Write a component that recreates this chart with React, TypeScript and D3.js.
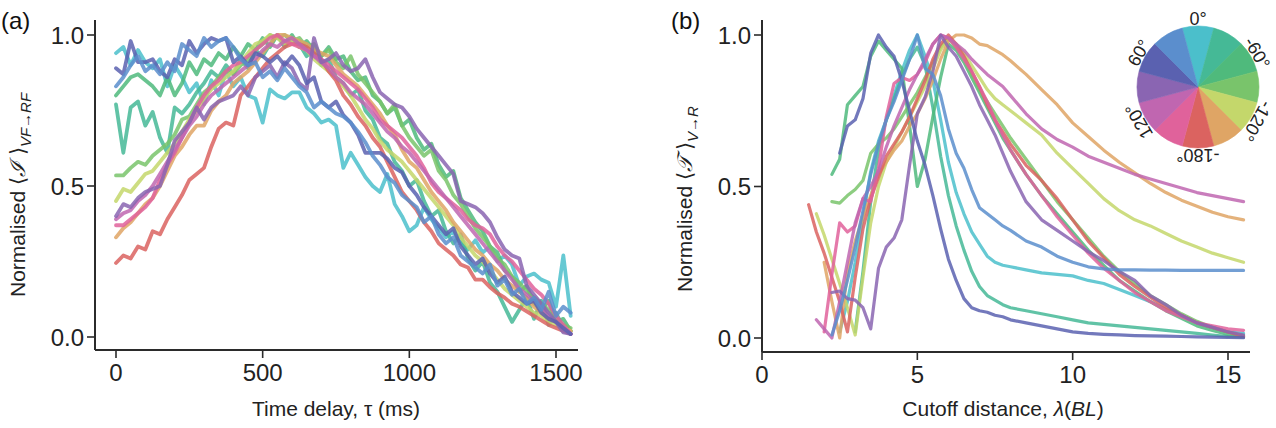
import React from 'react';
import * as d3 from 'd3';

// Heading (deg) for each colour of the wheel, clockwise from the top.
const WHEEL_HEADINGS = [0, -30, -60, -90, -120, -150, 180, 150, 120, 90, 60, 30];
const WHEEL_COLORS = [
  '#4bbfcb', '#45b996', '#4fba7c', '#79c46b', '#c4d76b', '#dfa565',
  '#db6360', '#e0629b', '#c066b0', '#8a65b2', '#5a61b0', '#5b8ecd',
];
const WHEEL_LABEL_HEADINGS = [0, -60, -120, -180, 120, 60];
const WHEEL_LABEL_TEXT = ['0°', '-60°', '-120°', '-180°', '120°', '60°'];

// Panel (a): time delay (ms)
const TIME_MS = [
  0, 25, 50, 75, 100, 125, 150, 175, 200, 225, 250, 275, 300, 325, 350, 375, 400, 425, 450, 475,
  500, 525, 550, 575, 600, 625, 650, 675, 700, 725, 750, 775, 800, 825, 850, 875, 900, 925, 950, 975,
  1000, 1025, 1050, 1075, 1100, 1125, 1150, 1175, 1200, 1225, 1250, 1275, 1300, 1325, 1350, 1375,
  1400, 1425, 1450, 1475, 1500, 1525, 1550,
];

const A_0 = [0.94,0.96,0.90,0.95,0.91,0.89,0.92,0.83,0.90,0.86,0.81,0.84,0.77,0.85,0.80,0.88,0.83,0.86,0.80,0.79,0.71,0.82,0.80,0.79,0.81,0.81,0.76,0.74,0.71,0.72,0.70,0.56,0.61,0.57,0.53,0.50,0.48,0.54,0.44,0.40,0.35,0.37,0.43,0.39,0.36,0.33,0.35,0.31,0.29,0.32,0.28,0.30,0.25,0.27,0.24,0.17,0.20,0.21,0.19,0.18,0.10,0.27,0.07];
const A_M30 = [0.77,0.61,0.76,0.78,0.70,0.745,0.66,0.61,0.76,0.74,0.77,0.81,0.84,0.88,0.86,0.90,0.87,0.92,0.89,0.95,0.93,0.97,1.0,0.96,0.99,0.97,0.93,0.95,0.90,0.92,0.86,0.84,0.80,0.82,0.75,0.72,0.66,0.64,0.58,0.55,0.50,0.52,0.45,0.40,0.42,0.35,0.31,0.34,0.26,0.22,0.25,0.18,0.15,0.10,0.05,0.09,0.13,0.06,0.12,0.04,0.08,0.03,0.02];
const A_M60 = [0.80,0.83,0.86,0.87,0.85,0.83,0.80,0.86,0.80,0.84,0.91,0.87,0.92,0.90,0.94,0.92,0.96,0.93,0.97,0.95,0.99,0.96,1.0,0.97,1.0,0.96,0.98,0.95,0.93,0.96,0.92,0.93,0.88,0.85,0.86,0.80,0.78,0.74,0.76,0.70,0.72,0.66,0.62,0.64,0.57,0.53,0.55,0.46,0.42,0.38,0.35,0.30,0.28,0.22,0.20,0.15,0.17,0.11,0.09,0.12,0.05,0.06,0.02];
const A_M90 = [0.535,0.535,0.56,0.58,0.57,0.60,0.62,0.64,0.67,0.72,0.73,0.77,0.81,0.83,0.86,0.88,0.87,0.90,0.92,0.95,0.97,1.0,0.99,1.0,0.98,0.99,0.96,0.97,0.93,0.95,0.91,0.89,0.93,0.87,0.84,0.81,0.78,0.74,0.77,0.70,0.66,0.63,0.60,0.62,0.55,0.52,0.47,0.44,0.40,0.36,0.33,0.30,0.26,0.24,0.20,0.18,0.15,0.13,0.11,0.09,0.06,0.04,0.03];
const A_M120 = [0.45,0.49,0.48,0.51,0.54,0.55,0.58,0.61,0.64,0.68,0.72,0.75,0.79,0.82,0.84,0.86,0.88,0.91,0.94,0.97,0.98,1.0,0.99,0.97,0.98,0.96,0.95,0.92,0.90,0.88,0.86,0.83,0.80,0.76,0.72,0.69,0.65,0.62,0.60,0.58,0.55,0.52,0.49,0.46,0.43,0.40,0.37,0.33,0.30,0.27,0.25,0.22,0.19,0.16,0.14,0.12,0.10,0.08,0.07,0.05,0.04,0.03,0.02];
const A_M150 = [0.33,0.36,0.38,0.41,0.44,0.46,0.50,0.55,0.60,0.63,0.67,0.70,0.70,0.75,0.78,0.80,0.84,0.86,0.88,0.91,0.94,0.97,1.0,1.0,0.99,0.98,0.97,0.95,0.94,0.93,0.90,0.87,0.85,0.83,0.80,0.77,0.74,0.70,0.67,0.62,0.58,0.56,0.52,0.48,0.45,0.42,0.38,0.35,0.32,0.29,0.27,0.24,0.22,0.19,0.17,0.15,0.13,0.10,0.08,0.06,0.05,0.03,0.02];
const A_180 = [0.245,0.27,0.26,0.30,0.29,0.35,0.34,0.39,0.43,0.47,0.52,0.54,0.56,0.63,0.69,0.71,0.70,0.80,0.83,0.86,0.89,0.92,0.94,0.96,0.97,0.97,0.96,0.94,0.92,0.88,0.85,0.80,0.77,0.73,0.70,0.66,0.63,0.58,0.53,0.48,0.45,0.42,0.38,0.35,0.31,0.29,0.27,0.24,0.23,0.19,0.19,0.165,0.145,0.13,0.11,0.10,0.085,0.07,0.055,0.04,0.03,0.02,0.01];
const A_150 = [0.37,0.37,0.39,0.41,0.43,0.46,0.52,0.57,0.61,0.66,0.71,0.76,0.80,0.83,0.85,0.88,0.90,0.91,0.93,0.95,0.97,0.99,1.0,0.98,0.97,0.96,0.95,0.93,0.92,0.90,0.88,0.86,0.84,0.82,0.79,0.76,0.72,0.70,0.68,0.66,0.63,0.60,0.56,0.51,0.48,0.46,0.44,0.42,0.39,0.37,0.36,0.34,0.30,0.27,0.25,0.22,0.19,0.16,0.14,0.11,0.07,0.04,0.01];
const A_120 = [0.39,0.41,0.42,0.45,0.47,0.50,0.54,0.58,0.62,0.66,0.70,0.73,0.77,0.80,0.82,0.84,0.86,0.88,0.90,0.92,0.95,0.97,0.96,0.98,0.99,0.97,0.95,0.93,0.91,0.89,0.86,0.84,0.81,0.79,0.77,0.74,0.71,0.68,0.66,0.63,0.61,0.58,0.55,0.52,0.49,0.46,0.43,0.40,0.37,0.34,0.31,0.28,0.25,0.22,0.19,0.16,0.14,0.12,0.10,0.07,0.05,0.03,0.01];
const A_90 = [0.40,0.44,0.43,0.46,0.48,0.49,0.50,0.57,0.65,0.68,0.71,0.76,0.72,0.76,0.78,0.79,0.80,0.83,0.80,0.86,0.88,0.90,0.86,0.91,0.89,0.84,0.82,0.99,0.91,0.92,0.94,0.90,0.88,0.89,0.92,0.86,0.81,0.79,0.77,0.76,0.73,0.69,0.66,0.63,0.60,0.57,0.54,0.45,0.44,0.43,0.41,0.38,0.33,0.29,0.27,0.26,0.17,0.14,0.11,0.08,0.05,0.015,0.01];
const A_60 = [0.89,0.87,0.98,0.91,0.91,0.92,0.88,0.86,0.92,0.90,0.98,0.94,0.97,0.99,0.98,0.99,0.91,0.93,0.90,0.94,0.93,0.91,0.93,0.90,0.93,0.90,0.84,0.86,0.78,0.76,0.78,0.735,0.71,0.67,0.61,0.61,0.61,0.59,0.56,0.545,0.50,0.47,0.43,0.40,0.37,0.34,0.36,0.30,0.27,0.24,0.26,0.21,0.18,0.20,0.15,0.13,0.11,0.12,0.08,0.06,0.05,0.03,0.01];
const A_30 = [0.83,0.86,0.90,0.93,0.88,0.90,0.87,0.91,0.88,0.97,0.95,0.93,0.99,0.96,0.98,0.99,0.96,0.92,0.90,0.91,0.86,0.88,0.85,0.89,0.86,0.83,0.81,0.76,0.78,0.76,0.74,0.73,0.71,0.68,0.645,0.60,0.57,0.53,0.51,0.47,0.45,0.43,0.38,0.40,0.34,0.31,0.33,0.27,0.25,0.23,0.21,0.24,0.17,0.19,0.14,0.16,0.11,0.13,0.09,0.15,0.07,0.10,0.08];

// Panel (b): cutoff distance (body lengths)
const LAMBDA_BL = [
  1.5, 1.75, 2.0, 2.25, 2.5, 2.75, 3.0, 3.25, 3.5, 3.75, 4.0, 4.25, 4.5, 4.75, 5.0, 5.25, 5.5, 5.75,
  6.0, 6.25, 6.5, 6.75, 7.0, 7.25, 7.5, 7.75, 8.0,
  8.5, 9.0, 9.5, 10.0, 10.5, 11.0, 11.5, 12.0, 12.5, 13.0, 13.5, 14.0, 14.5, 15.0, 15.5,
];
const _ = null;
const B_0 = [_,_,_,_,0.02,0.12,0.25,0.40,0.55,0.65,0.72,0.80,0.88,0.95,1.0,0.93,0.85,0.72,0.58,0.48,0.41,0.35,0.31,0.27,0.25,0.24,0.235,0.225,0.215,0.21,0.205,0.19,0.18,0.16,0.14,0.12,0.095,0.075,0.05,0.035,0.02,0.015];
const B_M30 = [_,_,_,_,_,_,0.02,0.22,0.45,0.62,0.72,0.79,0.86,0.92,0.96,0.90,0.76,0.60,0.47,0.37,0.29,0.22,0.17,0.14,0.125,0.11,0.10,0.09,0.08,0.07,0.06,0.05,0.045,0.04,0.035,0.03,0.025,0.02,0.015,0.01,0.005,0.003];
const B_M60 = [_,_,_,0.54,0.59,0.77,0.80,0.83,0.93,0.98,0.95,0.92,0.89,0.70,0.50,0.59,0.73,0.86,0.97,0.95,0.91,0.86,0.81,0.76,0.71,0.66,0.62,0.54,0.47,0.41,0.35,0.29,0.24,0.19,0.155,0.12,0.09,0.065,0.04,0.025,0.012,0.005];
const B_M90 = [_,_,_,0.45,0.445,0.47,0.49,0.52,0.61,0.64,0.66,0.69,0.73,0.77,0.81,0.86,0.91,0.96,0.99,0.96,0.92,0.87,0.82,0.78,0.74,0.70,0.66,0.59,0.52,0.45,0.39,0.33,0.27,0.22,0.18,0.14,0.11,0.08,0.055,0.035,0.02,0.008];
const B_M120 = [_,0.41,0.34,0.26,0.18,0.10,0.01,0.20,0.38,0.50,0.58,0.63,0.68,0.73,0.78,0.83,0.89,0.95,0.99,0.97,0.94,0.90,0.86,0.82,0.79,0.77,0.75,0.71,0.67,0.61,0.56,0.51,0.46,0.42,0.39,0.37,0.345,0.32,0.30,0.28,0.265,0.25];
const B_M150 = [_,_,0.25,0.12,0.0,0.22,0.32,0.40,0.47,0.54,0.58,0.62,0.65,0.70,0.74,0.79,0.85,0.92,0.98,1.0,1.0,0.99,0.97,0.965,0.95,0.935,0.915,0.87,0.82,0.77,0.71,0.665,0.62,0.58,0.545,0.51,0.48,0.455,0.435,0.415,0.40,0.39];
const B_180 = [0.44,0.35,0.28,0.20,0.12,0.02,0.20,0.36,0.46,0.53,0.60,0.64,0.68,0.73,0.79,0.85,0.92,0.97,1.0,0.97,0.93,0.88,0.83,0.77,0.72,0.68,0.64,0.57,0.52,0.46,0.39,0.32,0.265,0.21,0.17,0.135,0.10,0.075,0.05,0.035,0.02,0.005];
const B_150 = [_,_,0.02,0.21,0.38,0.35,0.37,0.46,0.45,0.56,0.73,0.84,0.86,0.85,0.87,0.91,0.97,1.0,0.99,0.96,0.92,0.88,0.83,0.78,0.72,0.67,0.62,0.54,0.47,0.40,0.34,0.28,0.23,0.19,0.15,0.12,0.09,0.07,0.05,0.04,0.03,0.025];
const B_120 = [_,0.06,0.03,0.0,0.12,0.25,0.38,0.46,0.50,0.55,0.63,0.70,0.76,0.82,0.87,0.92,0.97,1.0,0.99,0.97,0.95,0.92,0.895,0.87,0.85,0.83,0.80,0.74,0.69,0.655,0.63,0.60,0.58,0.56,0.54,0.525,0.51,0.495,0.48,0.47,0.46,0.45];
const B_90 = [_,_,_,0.15,0.155,0.13,0.125,0.10,0.03,0.23,0.30,0.33,0.39,0.57,0.74,0.795,0.88,1.0,0.96,0.93,0.88,0.83,0.77,0.72,0.67,0.61,0.55,0.45,0.39,0.355,0.32,0.285,0.255,0.22,0.19,0.14,0.11,0.075,0.05,0.035,0.02,0.01];
const B_60 = [_,_,_,_,0.61,0.70,0.72,0.79,0.94,1.0,0.96,0.93,0.85,0.75,0.65,0.57,0.47,0.36,0.26,0.19,0.13,0.10,0.09,0.085,0.075,0.07,0.06,0.05,0.04,0.03,0.02,0.015,0.012,0.01,0.008,0.007,0.006,0.005,0.004,0.003,0.002,0.001];
const B_30 = [_,_,_,0.01,0.09,0.19,0.30,0.42,0.54,0.64,0.72,0.78,0.85,0.92,1.0,0.89,0.87,0.80,0.69,0.61,0.56,0.49,0.43,0.41,0.39,0.37,0.355,0.32,0.30,0.27,0.25,0.235,0.228,0.225,0.225,0.224,0.224,0.223,0.223,0.223,0.223,0.223];

// Series in wheel order (same index as WHEEL_COLORS)
const A_SERIES = [A_0, A_M30, A_M60, A_M90, A_M120, A_M150, A_180, A_150, A_120, A_90, A_60, A_30];
const B_SERIES = [B_0, B_M30, B_M60, B_M90, B_M120, B_M150, B_180, B_150, B_120, B_90, B_60, B_30];

const A_XTICKS = [0, 500, 1000, 1500];
const B_XTICKS = [0, 5, 10, 15];
const Y_TICKS = [0, 0.5, 1.0];

const FONT = "'Liberation Sans', Arial, Helvetica, sans-serif";
const AXIS = '#2b2b2b';

type Frame = {
  x: d3.ScaleLinear<number, number>;
  y: d3.ScaleLinear<number, number>;
  left: number;
  right: number;
  top: number;
  bottom: number;
};

function Axes({ f, xticks, xfmt }: { f: Frame; xticks: number[]; xfmt: (v: number) => string }) {
  const yfmt = d3.format('.1f');
  return (
    <g fontFamily={FONT} fill="#222">
      <line x1={f.left} x2={f.right} y1={f.bottom} y2={f.bottom} stroke={AXIS} strokeWidth={2} />
      <line x1={f.left} x2={f.left} y1={f.top} y2={f.bottom} stroke={AXIS} strokeWidth={2} />
      {xticks.map((t) => (
        <g key={'x' + t}>
          <line x1={f.x(t)} x2={f.x(t)} y1={f.bottom} y2={f.bottom + 8} stroke={AXIS} strokeWidth={1.6} />
          <text x={f.x(t)} y={f.bottom + 31} textAnchor="middle" fontSize={24}>
            {xfmt(t)}
          </text>
        </g>
      ))}
      {Y_TICKS.map((t) => (
        <g key={'y' + t}>
          <line x1={f.left - 8} x2={f.left} y1={f.y(t)} y2={f.y(t)} stroke={AXIS} strokeWidth={1.6} />
          <text x={f.left - 11} y={f.y(t)} dy="0.36em" textAnchor="end" fontSize={24}>
            {yfmt(t)}
          </text>
        </g>
      ))}
    </g>
  );
}

export default function App() {
  const fa: Frame = {
    x: d3.scaleLinear().domain([0, 1500]).range([116, 556]),
    y: d3.scaleLinear().domain([0, 1]).range([337, 35]),
    left: 95,
    right: 578,
    top: 20,
    bottom: 350,
  };
  const fb: Frame = {
    x: d3.scaleLinear().domain([0, 15]).range([762, 1228]),
    y: d3.scaleLinear().domain([0, 1]).range([338, 35]),
    left: 762,
    right: 1250,
    top: 20,
    bottom: 352,
  };

  const lineA = d3
    .line<number>()
    .x((_d, i) => fa.x(TIME_MS[i]))
    .y((d) => fa.y(d));
  const lineB = d3
    .line<number | null>()
    .defined((d) => d !== null)
    .x((_d, i) => fb.x(LAMBDA_BL[i]))
    .y((d) => fb.y(d as number));

  const cx = 1198;
  const cy = 87;
  const r = 61;
  const labelR = 68;
  const arc = d3.arc<{ startAngle: number; endAngle: number }>().innerRadius(0).outerRadius(r);
  const rad = (deg: number) => (deg * Math.PI) / 180;

  return (
    <svg
      width={1276}
      height={428}
      viewBox="0 0 1276 428"
      style={{ position: 'absolute', left: 0, top: 0, background: '#fff' }}
    >
      <rect width={1276} height={428} fill="#fff" />

      {/* panel (a) */}
      <g fill="none" strokeWidth={3.8} strokeLinejoin="round" strokeLinecap="round" strokeOpacity={0.85}>
        {A_SERIES.map((s, k) => (
          <path key={k} d={lineA(s) || ''} stroke={WHEEL_COLORS[k]} />
        ))}
      </g>
      <Axes f={fa} xticks={A_XTICKS} xfmt={(v) => String(v)} />
      <text x={1} y={29} fontFamily={FONT} fontSize={24} fill="#111">(a)</text>
      <text x={336} y={416} textAnchor="middle" fontFamily={FONT} fontSize={21} fill="#222">
        Time delay, τ (ms)
      </text>
      <text transform="translate(25,297) rotate(-90)" fontFamily={FONT} fontSize={21} fill="#222">
        Normalised ⟨<tspan fontFamily="'DejaVu Serif', serif" fontStyle="italic">ℐ</tspan> ⟩
        <tspan fontSize={15} fontStyle="italic" dy={6}>VF→RF</tspan>
      </text>

      {/* panel (b) */}
      <g fill="none" strokeWidth={3.2} strokeLinejoin="round" strokeLinecap="round" strokeOpacity={0.85}>
        {B_SERIES.map((s, k) => (
          <path key={k} d={lineB(s) || ''} stroke={WHEEL_COLORS[k]} />
        ))}
      </g>
      <Axes f={fb} xticks={B_XTICKS} xfmt={(v) => String(v)} />
      <text x={671} y={29} fontFamily={FONT} fontSize={24} fill="#111">(b)</text>
      <text x={1003} y={416} textAnchor="middle" fontFamily={FONT} fontSize={21} fill="#222">
        Cutoff distance, <tspan fontStyle="italic">λ</tspan>(<tspan fontStyle="italic">BL</tspan>)
      </text>
      <text transform="translate(692,292) rotate(-90)" fontFamily={FONT} fontSize={21} fill="#222">
        Normalised ⟨<tspan fontFamily="'DejaVu Serif', serif" fontStyle="italic">𝒯</tspan> ⟩
        <tspan fontSize={15} fontStyle="italic" dy={6}>V→R</tspan>
      </text>

      {/* heading colour wheel */}
      <g transform={`translate(${cx},${cy})`}>
        {WHEEL_COLORS.map((c, k) => (
          <path
            key={k}
            d={arc({ startAngle: rad(k * 30 - 15), endAngle: rad(k * 30 + 15) }) || ''}
            fill={c}
            stroke={c}
            strokeWidth={0.6}
          />
        ))}
        {WHEEL_LABEL_HEADINGS.map((h, i) => {
          const a = -h;
          const lx = labelR * Math.sin(rad(a));
          const ly = -labelR * Math.cos(rad(a));
          return (
            <text
              key={h}
              transform={`translate(${lx},${ly}) rotate(${a})`}
              textAnchor="middle"
              dominantBaseline="central"
              fontFamily={FONT}
              fontSize={18}
              fill="#222"
            >
              {WHEEL_LABEL_TEXT[i]}
            </text>
          );
        })}
      </g>
    </svg>
  );
}
